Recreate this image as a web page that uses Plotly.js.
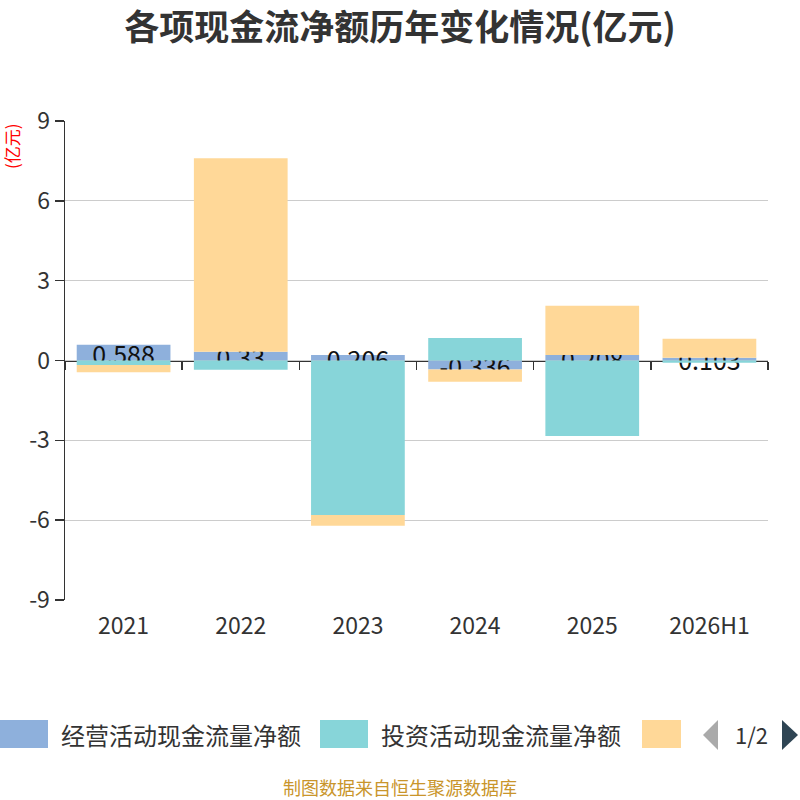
<!DOCTYPE html>
<html>
<head>
<meta charset="utf-8">
<script src="https://cdn.plot.ly/plotly-3.0.1.min.js"></script>
<style>
  html, body { margin: 0; padding: 0; background: #fff; }
  #chart { width: 800px; height: 800px; }
</style>
</head>
<body>
<div id="chart"></div>
<script>
// years and the three cash-flow series (亿元)
var years = ['2021', '2022', '2023', '2024', '2025', '2026H1'];
var operating = [0.588, 0.33, 0.206, -0.336, 0.208, 0.103];
var investing = [-0.17, -0.35, -5.81, 0.85, -2.84, -0.08];
var financing = [-0.27, 7.27, -0.40, -0.46, 1.85, 0.71];
var operatingLabels = ['0.588', '0.33', '0.206', '-0.336', '0.208', '0.103'];
var yTicks = [-9, -6, -3, 0, 3, 6, 9];
var yTickText = ['-9', '-6', '-3', '0', '3', '6', '9'];

var seriesNames = ['经营活动现金流量净额', '投资活动现金流量净额', '筹资活动现金流量净额'];
var colors = ['#8eb0dc', '#87d5d9', '#ffd898'];

var FONT = '"Noto Sans CJK SC", "Noto Sans", sans-serif';

// plot area in pixels
var L = 65, R = 768, T = 121, B = 600;
function px(x) { return (x - L) / (R - L); }
function py(y) { return (B - y) / (B - T); }

var traces = [
  {
    type: 'bar', name: seriesNames[0], x: years, y: operating,
    marker: {color: colors[0]},
    text: operatingLabels, textposition: 'inside', insidetextanchor: 'middle',
    textangle: 0, constraintext: 'none',
    textfont: {family: FONT, size: 25, color: '#111'},
    hoverinfo: 'x+y'
  },
  {
    type: 'bar', name: seriesNames[1], x: years, y: investing,
    marker: {color: colors[1]}, textposition: 'none'
  },
  {
    type: 'bar', name: seriesNames[2], x: years, y: financing,
    marker: {color: colors[2]}, textposition: 'none'
  },
  // invisible carrier for the axis line drawn through zero
  {
    type: 'scatter', mode: 'markers', x: years, y: operating,
    xaxis: 'x2', marker: {opacity: 0}, hoverinfo: 'skip', showlegend: false
  }
];

// hand-made legend (the original one is paged and clipped)
var shapes = [
  {type: 'rect', xref: 'paper', yref: 'paper', x0: px(0), x1: px(48), y0: py(720), y1: py(748),
   fillcolor: colors[0], line: {width: 0}},
  {type: 'rect', xref: 'paper', yref: 'paper', x0: px(320), x1: px(368), y0: py(720), y1: py(748),
   fillcolor: colors[1], line: {width: 0}},
  {type: 'rect', xref: 'paper', yref: 'paper', x0: px(642), x1: px(681), y0: py(720), y1: py(748),
   fillcolor: colors[2], line: {width: 0}},
  {type: 'path', xref: 'paper', yref: 'paper',
   path: 'M ' + px(718) + ' ' + py(720) + ' L ' + px(703) + ' ' + py(735) + ' L ' + px(718) + ' ' + py(750) + ' Z',
   fillcolor: '#aaaaaa', line: {width: 0}},
  {type: 'path', xref: 'paper', yref: 'paper',
   path: 'M ' + px(782) + ' ' + py(720) + ' L ' + px(798) + ' ' + py(735) + ' L ' + px(782) + ' ' + py(750) + ' Z',
   fillcolor: '#2f4554', line: {width: 0}}
];

var annotations = [
  {text: seriesNames[0], xref: 'paper', yref: 'paper', x: px(59), y: py(734),
   xanchor: 'left', yanchor: 'middle', showarrow: false,
   font: {family: FONT, size: 24, color: '#333'}},
  {text: seriesNames[1], xref: 'paper', yref: 'paper', x: px(379), y: py(734),
   xanchor: 'left', yanchor: 'middle', showarrow: false,
   font: {family: FONT, size: 24, color: '#333'}},
  {text: '1/2', xref: 'paper', yref: 'paper', x: px(751), y: py(734),
   xanchor: 'center', yanchor: 'middle', showarrow: false,
   font: {family: FONT, size: 22, color: '#333'}},
  {text: '制图数据来自恒生聚源数据库', xref: 'paper', yref: 'paper', x: px(400), y: py(787),
   xanchor: 'center', yanchor: 'middle', showarrow: false,
   font: {family: FONT, size: 18, color: '#c9952b'}},
  {text: '(亿元)', xref: 'paper', yref: 'paper', x: px(11), y: py(146),
   xanchor: 'center', yanchor: 'middle', showarrow: false, textangle: -90,
   font: {family: FONT, size: 17, color: '#ff0000'}}
];

var layout = {
  width: 800, height: 800,
  margin: {l: L, r: 800 - R, t: T, b: 800 - B, pad: 0},
  paper_bgcolor: '#fff', plot_bgcolor: '#fff',
  barmode: 'relative', bargap: 0.2,
  showlegend: false,
  font: {family: FONT, color: '#333'},
  title: {
    text: '<b>各项现金流净额历年变化情况(亿元)</b>',
    x: 0.5, xref: 'container', y: 1 - 28 / 800, yref: 'container', yanchor: 'middle',
    font: {family: FONT, size: 35, color: '#333'}
  },
  xaxis: {
    type: 'category', range: [-0.5, 5.5], showline: false, showgrid: false, zeroline: false,
    ticks: '', tickfont: {family: FONT, size: 23, color: '#333'},
    ticklabelstandoff: 10
  },
  xaxis2: {
    type: 'category', overlaying: 'x', anchor: 'free', position: 0.5, side: 'bottom',
    range: [-0.5, 5.5], tickson: 'boundaries', layer: 'below traces',
    showticklabels: false, showgrid: false, zeroline: false,
    showline: true, linecolor: '#333', linewidth: 1.5,
    ticks: 'outside', ticklen: 8, tickcolor: '#333', tickwidth: 1.5
  },
  yaxis: {
    range: [-9, 9], tickvals: yTicks, ticktext: yTickText,
    showline: true, linecolor: '#333', linewidth: 1.5,
    ticks: 'outside', ticklen: 9, tickcolor: '#333', tickwidth: 1.5,
    showgrid: true, gridcolor: '#cccccc', gridwidth: 1.2, zeroline: false,
    tickfont: {family: FONT, size: 23, color: '#333'}
  },
  shapes: shapes,
  annotations: annotations
};

Plotly.newPlot('chart', traces, layout, {displayModeBar: false, staticPlot: true});
</script>
</body>
</html>
